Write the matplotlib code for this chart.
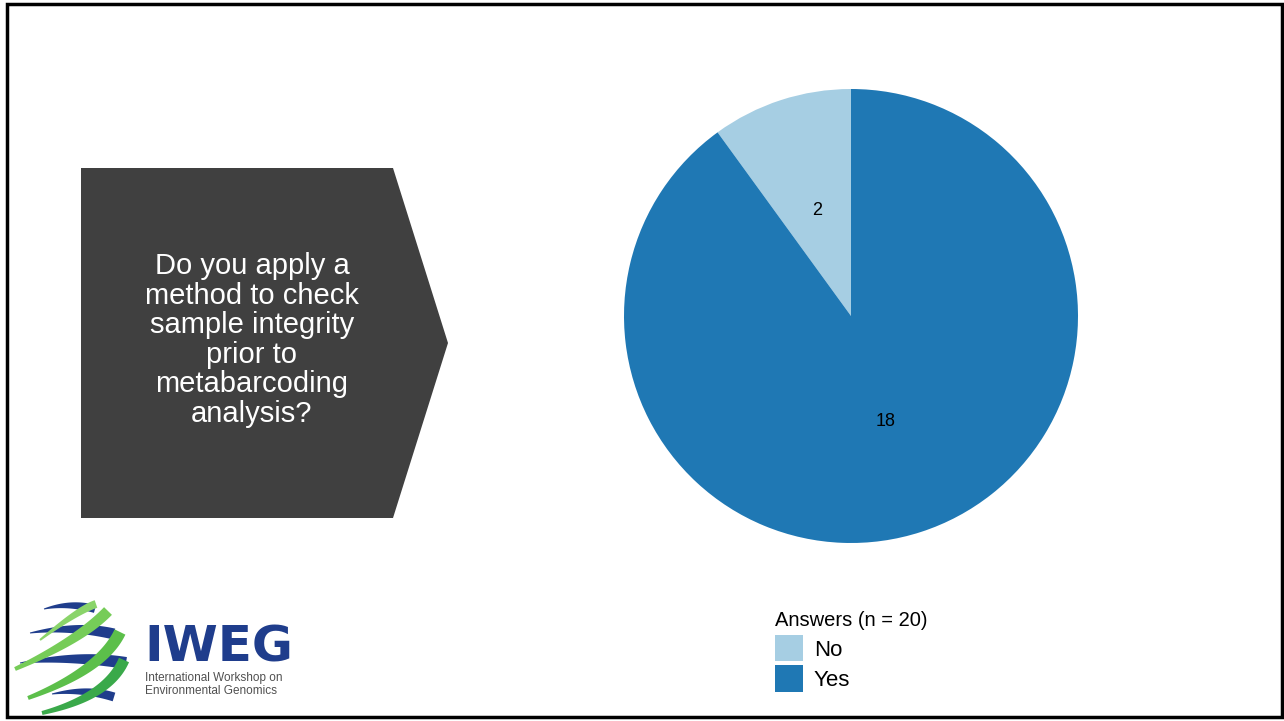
import numpy as np
import matplotlib.pyplot as plt
from matplotlib.patches import Polygon, Rectangle

plt.rcParams['font.family'] = ['Liberation Sans', 'DejaVu Sans']

# Survey answers
answers = ["No", "Yes"]
counts = [2, 18]
colors = ["#a6cee3", "#1f78b4"]
question = "Do you apply a\nmethod to check\nsample integrity\nprior to\nmetabarcoding\nanalysis?"
legend_title = "Answers (n = 20)"

W, H = 1284, 721
fig = plt.figure(figsize=(W / 100, H / 100), dpi=100)

# background layer in pixel coordinates
bg = fig.add_axes([0, 0, 1, 1])
bg.set_xlim(0, W)
bg.set_ylim(H, 0)
bg.axis("off")

# slide frame
bg.add_patch(Rectangle((7, 4), 1275, 713, fill=False, edgecolor="black", lw=2.5))

# question box shaped as an arrow
arrow = Polygon([(81, 168), (393, 168), (448, 343), (393, 518), (81, 518)],
                closed=True, facecolor="#404040", edgecolor="none")
bg.add_patch(arrow)
bg.text(252, 340, question, color="white", fontsize=21, ha="center", va="center",
        linespacing=1.07)


def ribbon(p0, pc, p1, w0, w1, color):
    t = np.linspace(0, 1, 60)
    p0, pc, p1 = map(np.array, (p0, pc, p1))
    pts = ((1 - t) ** 2)[:, None] * p0 + (2 * (1 - t) * t)[:, None] * pc + (t ** 2)[:, None] * p1
    d = np.gradient(pts, axis=0)
    n = np.stack([-d[:, 1], d[:, 0]], axis=1)
    n /= np.linalg.norm(n, axis=1)[:, None]
    w = (w0 + (w1 - w0) * np.sin(np.pi * t * 0.5)) / 2
    upper = pts + n * w[:, None]
    lower = pts - n * w[:, None]
    bg.add_patch(Polygon(np.vstack([upper, lower[::-1]]), closed=True,
                         facecolor=color, edgecolor="none"))


# logo globe
navy = "#1f3d8c"
ribbon((44, 609), (70, 602), (95, 609), 1, 8, navy)
ribbon((30, 633), (75, 625), (114, 634), 1, 11, navy)
ribbon((20, 663), (75, 655), (126, 663), 1, 12, navy)
ribbon((52, 694), (85, 688), (114, 697), 1, 9, navy)
ribbon((40, 640), (78, 610), (96, 604), 2, 8, "#8ad46a")
ribbon((15, 669), (80, 640), (108, 611), 4, 11, "#76cc58")
ribbon((28, 698), (102, 670), (120, 632), 4, 12, "#5cbf4a")
ribbon((42, 713), (108, 697), (124, 660), 4, 11, "#3aa94a")

bg.text(144, 662, "IWEG", color=navy, fontsize=36, fontweight="bold",
        family="DejaVu Sans", ha="left", va="baseline")
bg.text(145, 681, "International Workshop on", color="#505050", fontsize=8.5,
        ha="left", va="baseline")
bg.text(145, 694, "Environmental Genomics", color="#505050", fontsize=8.5,
        ha="left", va="baseline")

# pie chart
cx, cy, r = 851, 316, 227
ax = fig.add_axes([(cx - r) / W, 1 - (cy + r) / H, 2 * r / W, 2 * r / H])
wedges, texts = ax.pie(counts, colors=colors, startangle=90, counterclock=True,
                       labels=[str(c) for c in counts], labeldistance=0.49,
                       textprops=dict(fontsize=13, ha="center", va="center"),
                       wedgeprops=dict(linewidth=0))
ax.set_xlim(-1, 1)
ax.set_ylim(-1, 1)
ax.set_aspect("equal")
ax.axis("off")

# legend with its title set a little apart
bg.text(775, 620, legend_title, fontsize=14.5, ha="left", va="center")
leg = fig.legend(wedges, answers, loc="upper left",
                 bbox_to_anchor=(775 / W, 1 - 635 / H), frameon=False,
                 fontsize=16, handlelength=1.25, handleheight=1.45,
                 labelspacing=0.17, handletextpad=0.5, borderpad=0, borderaxespad=0)

fig.savefig("out.png", dpi=100)
